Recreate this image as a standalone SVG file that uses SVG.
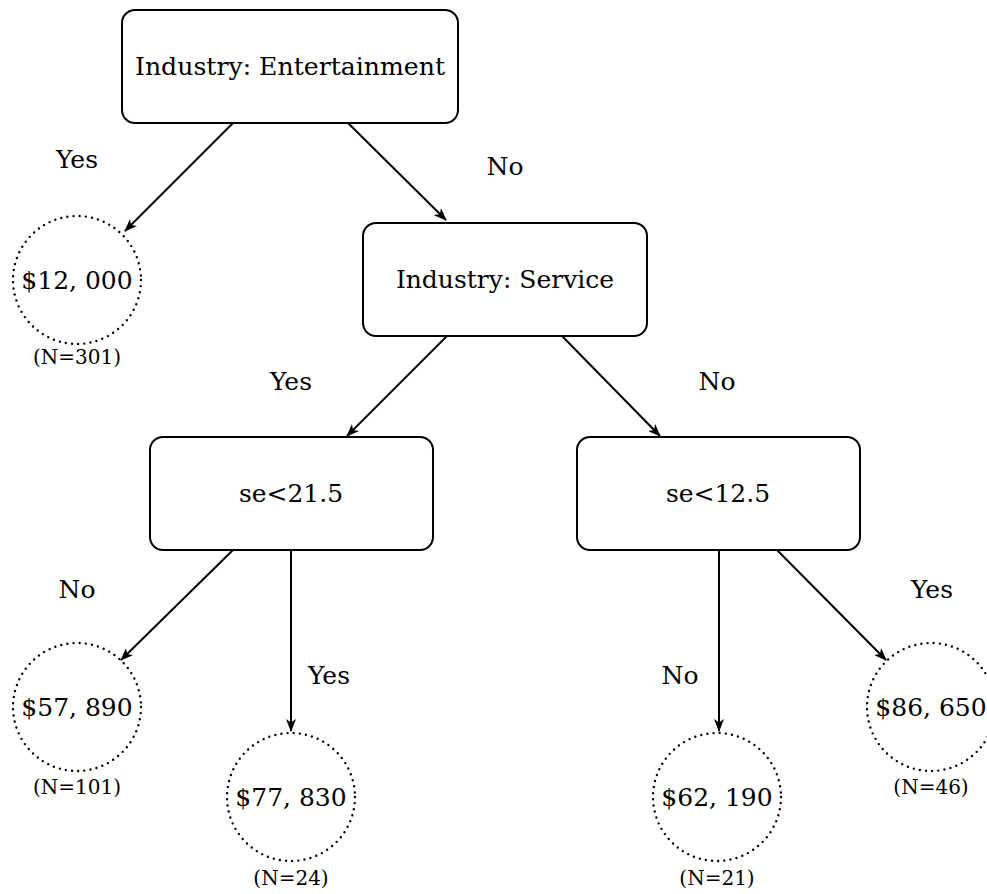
<svg xmlns="http://www.w3.org/2000/svg" width="987" height="894" viewBox="0 0 987 894">
<defs>
<marker id="ah" viewBox="0 0 13 10" refX="12" refY="5" markerWidth="13" markerHeight="10" markerUnits="userSpaceOnUse" orient="auto">
<path d="M0,0 L13,5 L0,10 L3.5,5 Z" fill="#000"/>
</marker>
</defs>
<style>
.box{fill:#fff;stroke:#000;stroke-width:2}
.leaf{fill:none;stroke:#000;stroke-width:2.4;stroke-dasharray:0 6.2;stroke-linecap:round}
.t{font-size:25px;fill:#000;text-anchor:middle}
.n{font-size:20px;fill:#000;text-anchor:middle}
.e{stroke:#000;stroke-width:2;fill:none;marker-end:url(#ah)}
</style>
<g font-family="'DejaVu Serif', serif">
<g id="connectors">
<line class="e" x1="233" y1="123" x2="125" y2="231"/>
<line class="e" x1="348" y1="123" x2="446" y2="220"/>
<line class="e" x1="447" y1="336" x2="347" y2="436"/>
<line class="e" x1="562" y1="336" x2="660" y2="436"/>
<line class="e" x1="233" y1="550" x2="121" y2="660"/>
<line class="e" x1="291" y1="550" x2="291" y2="731"/>
<line class="e" x1="719" y1="550" x2="719" y2="731"/>
<line class="e" x1="777" y1="550" x2="886" y2="660"/>
<text class="t" x="77" y="168">Yes</text>
<text class="t" x="505" y="175">No</text>
<text class="t" x="291" y="390">Yes</text>
<text class="t" x="717" y="390">No</text>
<text class="t" x="77" y="598">No</text>
<text class="t" x="329" y="684">Yes</text>
<text class="t" x="932" y="598">Yes</text>
<text class="t" x="680" y="684">No</text>
</g>
<g id="n-entertainment">
<rect class="box" x="122" y="10" width="336" height="113" rx="13"/>
<text class="t" x="290" y="75" textLength="310" lengthAdjust="spacingAndGlyphs">Industry: Entertainment</text>
</g>
<g id="n-service">
<rect class="box" x="363" y="223" width="284" height="113" rx="13"/>
<text class="t" x="505" y="288">Industry: Service</text>
</g>
<g id="n-se215">
<rect class="box" x="150" y="437" width="283" height="113" rx="13"/>
<text class="t" x="291" y="502">se&lt;21.5</text>
</g>
<g id="n-se125">
<rect class="box" x="577" y="437" width="283" height="113" rx="13"/>
<text class="t" x="718" y="502">se&lt;12.5</text>
</g>
<g id="l-12000">
<circle class="leaf" cx="77" cy="280" r="64"/>
<text class="t" x="77" y="289">$12, 000</text>
<text class="n" x="77" y="364">(N=301)</text>
</g>
<g id="l-57890">
<circle class="leaf" cx="77" cy="707" r="64"/>
<text class="t" x="77" y="716">$57, 890</text>
<text class="n" x="77" y="794">(N=101)</text>
</g>
<g id="l-77830">
<circle class="leaf" cx="291" cy="797" r="64"/>
<text class="t" x="291" y="806">$77, 830</text>
<text class="n" x="291" y="885">(N=24)</text>
</g>
<g id="l-62190">
<circle class="leaf" cx="717" cy="797" r="64"/>
<text class="t" x="717" y="806">$62, 190</text>
<text class="n" x="717" y="885">(N=21)</text>
</g>
<g id="l-86650">
<circle class="leaf" cx="931" cy="707" r="64"/>
<text class="t" x="931" y="716">$86, 650</text>
<text class="n" x="931" y="794">(N=46)</text>
</g>
</g>
</svg>
